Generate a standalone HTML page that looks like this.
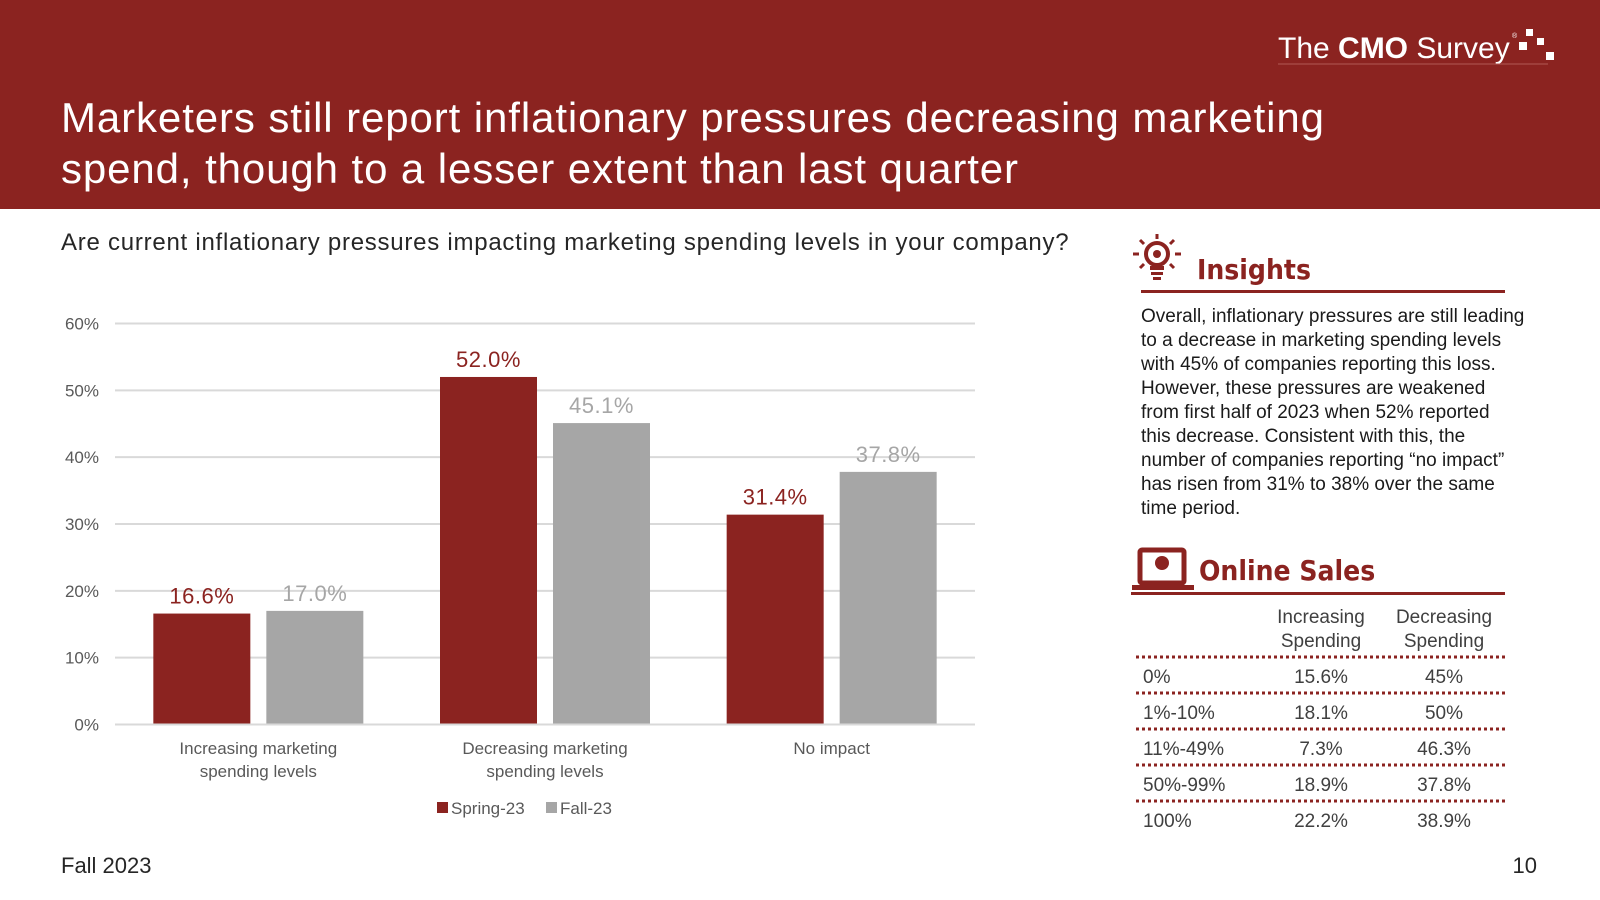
<!DOCTYPE html>
<html><head><meta charset="utf-8">
<style>
html,body{margin:0;padding:0;width:1600px;height:900px;overflow:hidden;background:#fff}
svg{display:block;font-family:"Liberation Sans",sans-serif}
</style></head>
<body>
<svg width="1600" height="900" viewBox="0 0 1600 900" xmlns="http://www.w3.org/2000/svg">
<rect x="0" y="0" width="1600" height="209" fill="#8b2320"/>
<g>
<text x="1278" y="58" font-size="30" fill="#fff" font-weight="300">The <tspan font-weight="bold">CMO</tspan> Survey</text>
<text x="1512" y="38" font-size="7" fill="#fff">®</text>
<rect x="1526" y="29" width="7" height="7" fill="#fff"/>
<rect x="1519" y="42" width="8" height="8" fill="#fff"/>
<rect x="1537" y="38" width="7" height="7" fill="#fff"/>
<rect x="1546" y="52" width="8" height="8" fill="#fff"/>
<line x1="1278" y1="64" x2="1548" y2="64" stroke="#b05a55" stroke-width="1"/>
</g>
<text font-size="42" fill="#fff" letter-spacing="0.9">
<tspan x="61" y="132">Marketers still report inflationary pressures decreasing marketing</tspan>
<tspan x="61" y="183">spend, though to a lesser extent than last quarter</tspan>
</text>
<text x="61" y="250" font-size="24" fill="#262626" letter-spacing="0.75">Are current inflationary pressures impacting marketing spending levels in your company?</text>
<g id="chart"></g>
<text x="61" y="873" font-size="22" fill="#262626">Fall 2023</text>
<text x="1537" y="873" font-size="22" fill="#262626" text-anchor="end">10</text>

<g fill="#8b2320" stroke="#8b2320">
<circle cx="1157" cy="254" r="11" fill="none" stroke-width="4"/>
<circle cx="1157" cy="254" r="4" stroke="none"/>
<rect x="1150" y="266" width="14" height="4" stroke="none"/>
<rect x="1151" y="272" width="12" height="3" stroke="none"/>
<rect x="1153" y="277" width="8" height="3" stroke="none"/>
<line x1="1157" y1="234" x2="1157" y2="239" stroke-width="3"/>
<line x1="1133" y1="254" x2="1139" y2="254" stroke-width="3"/>
<line x1="1175" y1="254" x2="1181" y2="254" stroke-width="3"/>
<line x1="1140" y1="240" x2="1144" y2="244" stroke-width="3"/>
<line x1="1174" y1="240" x2="1170" y2="244" stroke-width="3"/>
<line x1="1140" y1="268" x2="1144" y2="264" stroke-width="3"/>
<line x1="1174" y1="268" x2="1170" y2="264" stroke-width="3"/>
</g>
<text x="1197" y="279" font-size="28" fill="#8b2320" font-weight="bold" font-family="'DejaVu Sans Condensed','Liberation Sans',sans-serif">Insights</text>
<rect x="1141" y="290" width="364" height="3" fill="#8b2320"/>
<text font-size="19" fill="#1a1a1a">
<tspan x="1141" y="322">Overall, inflationary pressures are still leading</tspan>
<tspan x="1141" y="346">to a decrease in marketing spending levels</tspan>
<tspan x="1141" y="370">with 45% of companies reporting this loss.</tspan>
<tspan x="1141" y="394">However, these pressures are weakened</tspan>
<tspan x="1141" y="418">from first half of 2023 when 52% reported</tspan>
<tspan x="1141" y="442">this decrease. Consistent with this, the</tspan>
<tspan x="1141" y="466">number of companies reporting “no impact”</tspan>
<tspan x="1141" y="490">has risen from 31% to 38% over the same</tspan>
<tspan x="1141" y="514">time period.</tspan>
</text>
<g fill="#8b2320">
<rect x="1140" y="550" width="44" height="33" rx="2" fill="none" stroke="#8b2320" stroke-width="5"/>
<circle cx="1162" cy="563" r="7"/>
<rect x="1132" y="585" width="62" height="5"/>
</g>
<text x="1199" y="580" font-size="28" fill="#8b2320" font-weight="bold" font-family="'DejaVu Sans Condensed','Liberation Sans',sans-serif">Online Sales</text>
<rect x="1131" y="592" width="374" height="3" fill="#8b2320"/>
<g font-size="19" fill="#404040">
<text x="1321" y="623" text-anchor="middle">Increasing</text>
<text x="1321" y="647" text-anchor="middle">Spending</text>
<text x="1444" y="623" text-anchor="middle">Decreasing</text>
<text x="1444" y="647" text-anchor="middle">Spending</text>
<g stroke="#8b2320" stroke-width="3" stroke-dasharray="3 3">
<line x1="1136" y1="657" x2="1505" y2="657"/>
<line x1="1136" y1="693" x2="1505" y2="693"/>
<line x1="1136" y1="729" x2="1505" y2="729"/>
<line x1="1136" y1="765" x2="1505" y2="765"/>
<line x1="1136" y1="801" x2="1505" y2="801"/>
</g>
<text x="1143" y="683">0%</text><text x="1321" y="683" text-anchor="middle">15.6%</text><text x="1444" y="683" text-anchor="middle">45%</text>
<text x="1143" y="719">1%-10%</text><text x="1321" y="719" text-anchor="middle">18.1%</text><text x="1444" y="719" text-anchor="middle">50%</text>
<text x="1143" y="755">11%-49%</text><text x="1321" y="755" text-anchor="middle">7.3%</text><text x="1444" y="755" text-anchor="middle">46.3%</text>
<text x="1143" y="791">50%-99%</text><text x="1321" y="791" text-anchor="middle">18.9%</text><text x="1444" y="791" text-anchor="middle">37.8%</text>
<text x="1143" y="827">100%</text><text x="1321" y="827" text-anchor="middle">22.2%</text><text x="1444" y="827" text-anchor="middle">38.9%</text>
</g>
</svg>
<script>
const categories = [["Increasing marketing","spending levels"],["Decreasing marketing","spending levels"],["No impact"]];
const spring23 = [16.6, 52.0, 31.4];
const fall23 = [17.0, 45.1, 37.8];
const yTicks = [0, 10, 20, 30, 40, 50, 60];
const seriesNames = ["Spring-23", "Fall-23"];

const NS = "http://www.w3.org/2000/svg";
const g = document.getElementById("chart");
const x0 = 115, x1 = 975, yBase = 724.5, yTop = 323.5, yMax = 60;
const yScale = v => yBase - (v / yMax) * (yBase - yTop);
const band = (x1 - x0) / categories.length;
const xCenter = i => x0 + band * (i + 0.5);
function mk(tag, attrs, text) {
  const e = document.createElementNS(NS, tag);
  for (const k in attrs) e.setAttribute(k, attrs[k]);
  if (text !== undefined) e.textContent = text;
  g.appendChild(e);
  return e;
}
yTicks.forEach(t => {
  const l = mk("line", {x1: x0, x2: x1, y1: yScale(t), y2: yScale(t), stroke: "#d9d9d9", "stroke-width": 2});
  
  
  const tx = mk("text", {x: 99, y: yScale(t) + 6, "text-anchor": "end", "font-size": 17, fill: "#595959"}, t + "%");
  
  
});
const series = [[spring23, "#8b2320", -105, "#8b2320"], [fall23, "#a6a6a6", 8, "#a6a6a6"]];
const bw = 97;
categories.forEach((c, i) => {
  series.forEach(([vals, col, off, lc], s) => {
    const bx = xCenter(i) + off;
    const r = mk("rect", {x: bx, y: yScale(vals[i]), width: bw, height: yBase - yScale(vals[i]), fill: col});
    
    
    const lb = mk("text", {x: bx + bw / 2, y: yScale(vals[i]) - 10, "text-anchor": "middle", "font-size": 22, fill: lc, "letter-spacing": 0.5}, vals[i].toFixed(1) + "%");
    
    
  });
  c.forEach((line, j) => {
    const t = mk("text", {x: xCenter(i), y: 754 + j * 23, "text-anchor": "middle", "font-size": 17, fill: "#595959"}, line);
    
    
  });
});
mk("line", {x1: x0, x2: x1, y1: yBase, y2: yBase, stroke: "#d9d9d9", "stroke-width": 2});
const legX = [437, 546];
seriesNames.forEach((n, s) => {
  const r = mk("rect", {x: legX[s], y: 802, width: 11, height: 11, fill: series[s][1]});
  
  
  const t = mk("text", {x: legX[s] + 14, y: 814, "font-size": 17, fill: "#595959"}, n);
  
  
});
</script>
</body></html>
